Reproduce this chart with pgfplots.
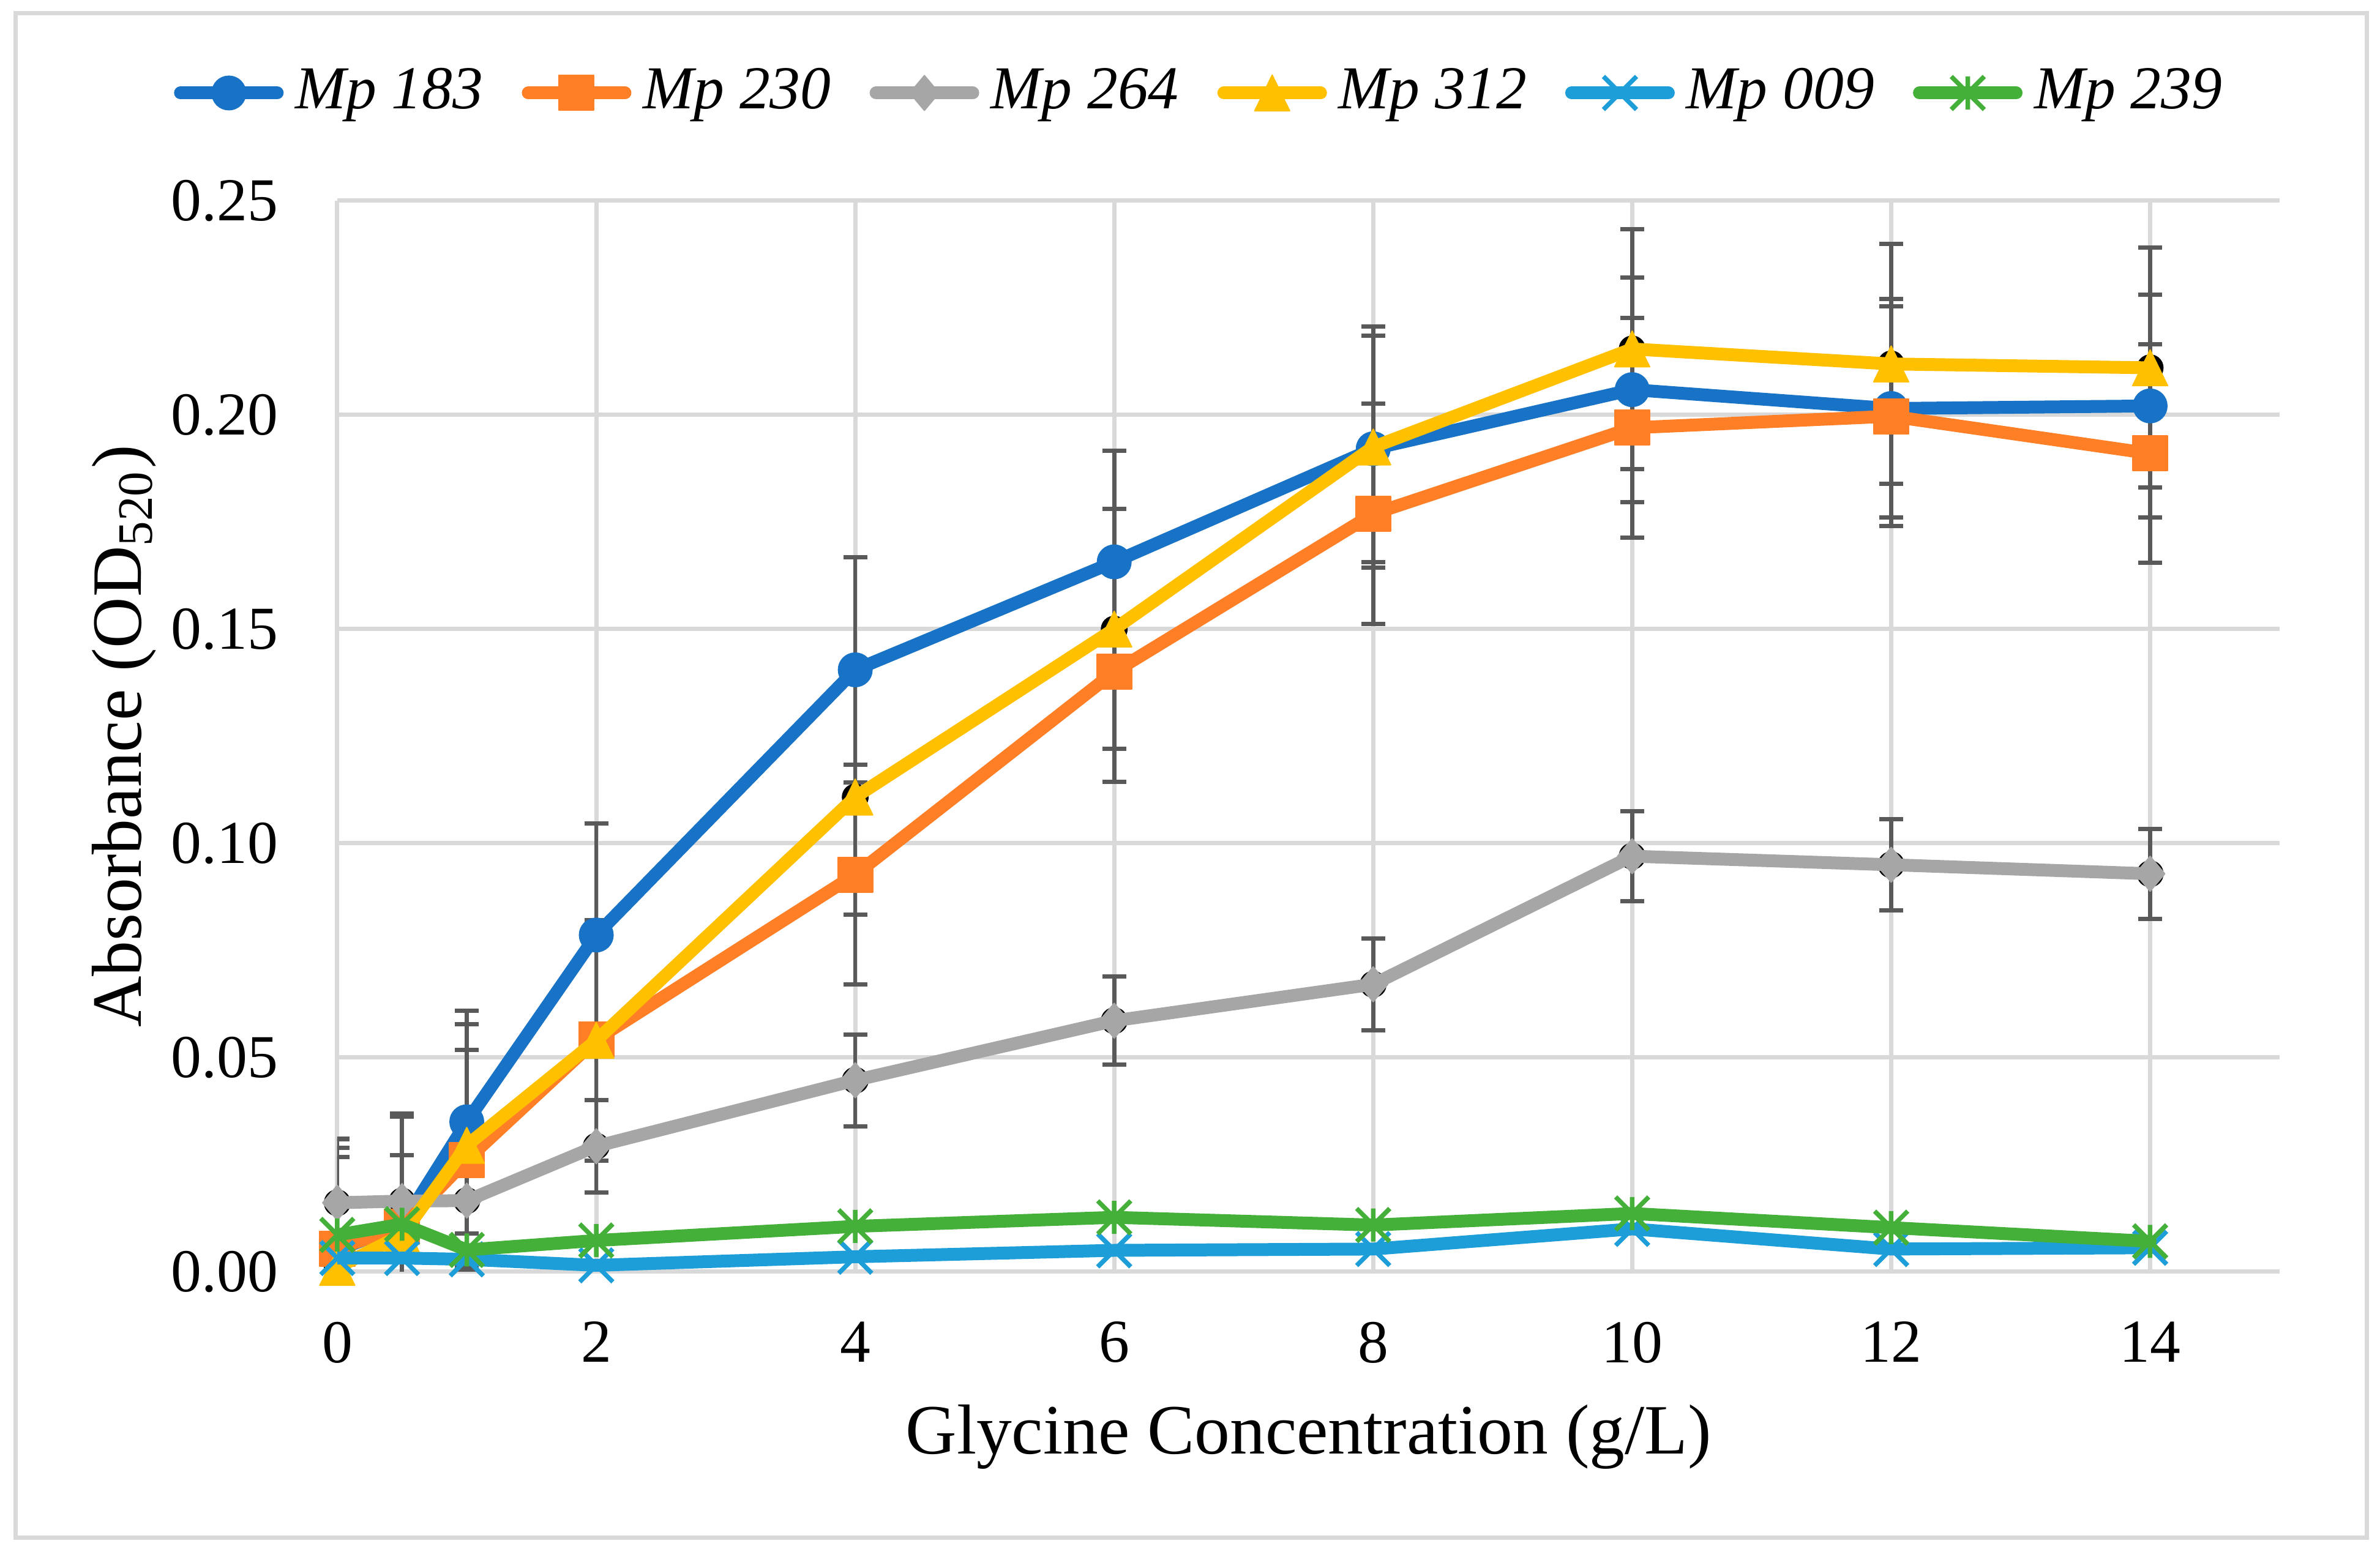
\documentclass[border=0pt]{standalone}
\usepackage{fontspec}
\setmainfont{Liberation Serif}
\usepackage{pgfplots}
\pgfplotsset{compat=1.18}
\usepackage{pgfplotstable}

\definecolor{c183}{RGB}{24,115,198}
\definecolor{c230}{RGB}{255,127,39}
\definecolor{c264}{RGB}{166,166,166}
\definecolor{c312}{RGB}{255,192,0}
\definecolor{c009}{RGB}{30,158,216}
\definecolor{c239}{RGB}{68,176,58}
\definecolor{gridc}{RGB}{217,217,217}
\definecolor{errc}{RGB}{89,89,89}

\pgfdeclareplotmark{xstar}{%
  \pgfpathmoveto{\pgfqpoint{-\pgfplotmarksize}{-\pgfplotmarksize}}%
  \pgfpathlineto{\pgfqpoint{\pgfplotmarksize}{\pgfplotmarksize}}%
  \pgfpathmoveto{\pgfqpoint{-\pgfplotmarksize}{\pgfplotmarksize}}%
  \pgfpathlineto{\pgfqpoint{\pgfplotmarksize}{-\pgfplotmarksize}}%
  \pgfpathmoveto{\pgfqpoint{0pt}{-\pgfplotmarksize}}%
  \pgfpathlineto{\pgfqpoint{0pt}{\pgfplotmarksize}}%
  \pgfusepathqstroke}

\pgfplotstableread{
x y e
0 0.005 0.026
0.5 0.011 0.026
1 0.035 0.026
2 0.0786 0.026
4 0.1405 0.0263
6 0.1657 0.026
8 0.1921 0.0264
10 0.2059 0.0262
12 0.2015 0.0255
14 0.2021 0.026
}\tA
\pgfplotstableread{
x y e
0 0.0054 0.0257
0.5 0.0105 0.0257
1 0.0261 0.0257
2 0.0542 0.0257
4 0.0927 0.0256
6 0.140 0.0257
8 0.1769 0.0257
10 0.197 0.0257
12 0.1997 0.0257
14 0.191 0.0255
}\tB
\pgfplotstableread{
x y e
0 0.0161 0.0107
0.5 0.0165 0.0107
1 0.0166 0.0107
2 0.0293 0.0108
4 0.0447 0.0107
6 0.0586 0.0103
8 0.0671 0.0107
10 0.0970 0.0105
12 0.0950 0.0106
14 0.0929 0.0105
}\tC
\pgfplotstableread{
x y e
0 0.001 0.028
0.5 0.0086 0.028
1 0.0295 0.0283
2 0.054 0.028
4 0.1108 0.0275
6 0.150 0.028
8 0.1925 0.0282
10 0.2154 0.028
12 0.2119 0.028
14 0.211 0.028
}\tD
\pgfplotstableread{
x y
0 0.0032
0.5 0.0032
1 0.0029
2 0.0015
4 0.0035
6 0.0050
8 0.0053
10 0.0100
12 0.0053
14 0.0056
}\tE
\pgfplotstableread{
x y
0 0.0086
0.5 0.0111
1 0.0051
2 0.0073
4 0.0106
6 0.0127
8 0.0109
10 0.0136
12 0.0103
14 0.0071
}\tF

\pgfplotsset{
  errstyle/.style={forget plot, only marks, mark=none,
    error bars/.cd, y dir=both, y explicit, error mark=|,
    error bar style={draw=errc, line width=0.67bp, solid, line cap=butt},
    error mark options={draw=errc, line width=0.7bp, mark size=1.95bp, line cap=butt}},
}

\begin{document}
\begin{tikzpicture}
\begin{axis}[
  at={(55.1bp,45.3bp)}, anchor=south west,
  scale only axis, width=317.3bp, height=175bp,
  xmin=0, xmax=15, ymin=0, ymax=0.25,
  axis line style={draw=none},
  major tick length=0pt,
  grid=major,
  major grid style={gridc, line width=0.7bp},
  xtick={0,2,4,6,8,10,12,14},
  xticklabels={0,2,4,6,8,10,12,14},
  ytick={0,0.05,0.1,0.15,0.2,0.25},
  yticklabels={0.00,0.05,0.10,0.15,0.20,0.25},
  tick label style={font=\fontsize{10}{12}\selectfont},
  xticklabel style={anchor=north, inner sep=0pt, yshift=-8bp},
  yticklabel style={anchor=east, inner sep=0pt, xshift=-9.5bp},
  xlabel={Glycine Concentration (g/L)},
  ylabel={Absorbance (OD\textsubscript{520})},
  label style={font=\fontsize{11.6}{14}\selectfont},
  xlabel style={at={(axis description cs:0.5,-0.1543)}, anchor=center},
  ylabel style={at={(axis description cs:-0.1097,0.5)}, anchor=center},
  legend columns=6,
  legend cell align=left,
  legend style={draw=none, fill=none, inner sep=0pt,
    at={(axis description cs:0.4432,1.1006)}, anchor=center,
    font=\fontsize{10}{12}\selectfont\itshape,
    nodes={inner sep=0pt},
    /tikz/every odd column/.append style={column sep=1.9bp},
    /tikz/every even column/.append style={column sep=6.3bp}},
  legend image code/.code={\draw[mark repeat=2,mark phase=2] plot coordinates {(0bp,0bp)(7.9bp,0bp)(15.8bp,0bp)};},
  clip mode=individual,
  every axis plot/.append style={line join=round, line cap=round},
]
% error bars behind everything
\addplot[errstyle] table[x=x,y=y,y error=e]{\tA};
\addplot[errstyle] table[x=x,y=y,y error=e]{\tB};
\addplot[errstyle] table[x=x,y=y,y error=e]{\tC};
\addplot[errstyle] table[x=x,y=y,y error=e]{\tD};

\addplot[c183, line width=2.1bp, mark=*, mark size=2.75bp, mark options={solid, fill=c183, draw=c183, line width=0.2bp}] table[x=x,y=y]{\tA};
\addlegendentry{Mp 183}
\addplot[c230, line width=2.1bp, mark=square*, mark size=2.85bp, mark options={solid, fill=c230, draw=c230, line width=0.2bp}] table[x=x,y=y]{\tB};
\addlegendentry{Mp 230}
\addplot[c264, line width=2.1bp, mark=diamond*, mark size=2.85bp, mark options={solid, xscale=1.12, fill=c264, draw=c264, line width=0.2bp}] table[x=x,y=y]{\tC};
\addlegendentry{Mp 264}
\addplot[c312, line width=2.1bp, mark=triangle*, mark size=3.3bp, mark options={solid, yshift=-0.97bp, yscale=1.18, fill=c312, draw=c312, line width=0.2bp}] table[x=x,y=y]{\tD};
\addlegendentry{Mp 312}
\addplot[c009, line width=2.1bp, mark=x, mark size=3.82bp, mark options={solid, draw=c009, line width=0.75bp, line cap=butt}] table[x=x,y=y]{\tE};
\addlegendentry{Mp 009}
\addplot[c239, line width=2.1bp, mark=xstar, mark size=2.7bp, mark options={solid, draw=c239, line width=0.75bp, line cap=butt}] table[x=x,y=y]{\tF};
\addlegendentry{Mp 239}
\end{axis}
\draw[gridc, line width=0.7bp] (2.5bp,1.9bp) rectangle (386.6bp,250.9bp);
\path (0,0) rectangle (388.8bp,253.1bp);
\end{tikzpicture}
\end{document}
